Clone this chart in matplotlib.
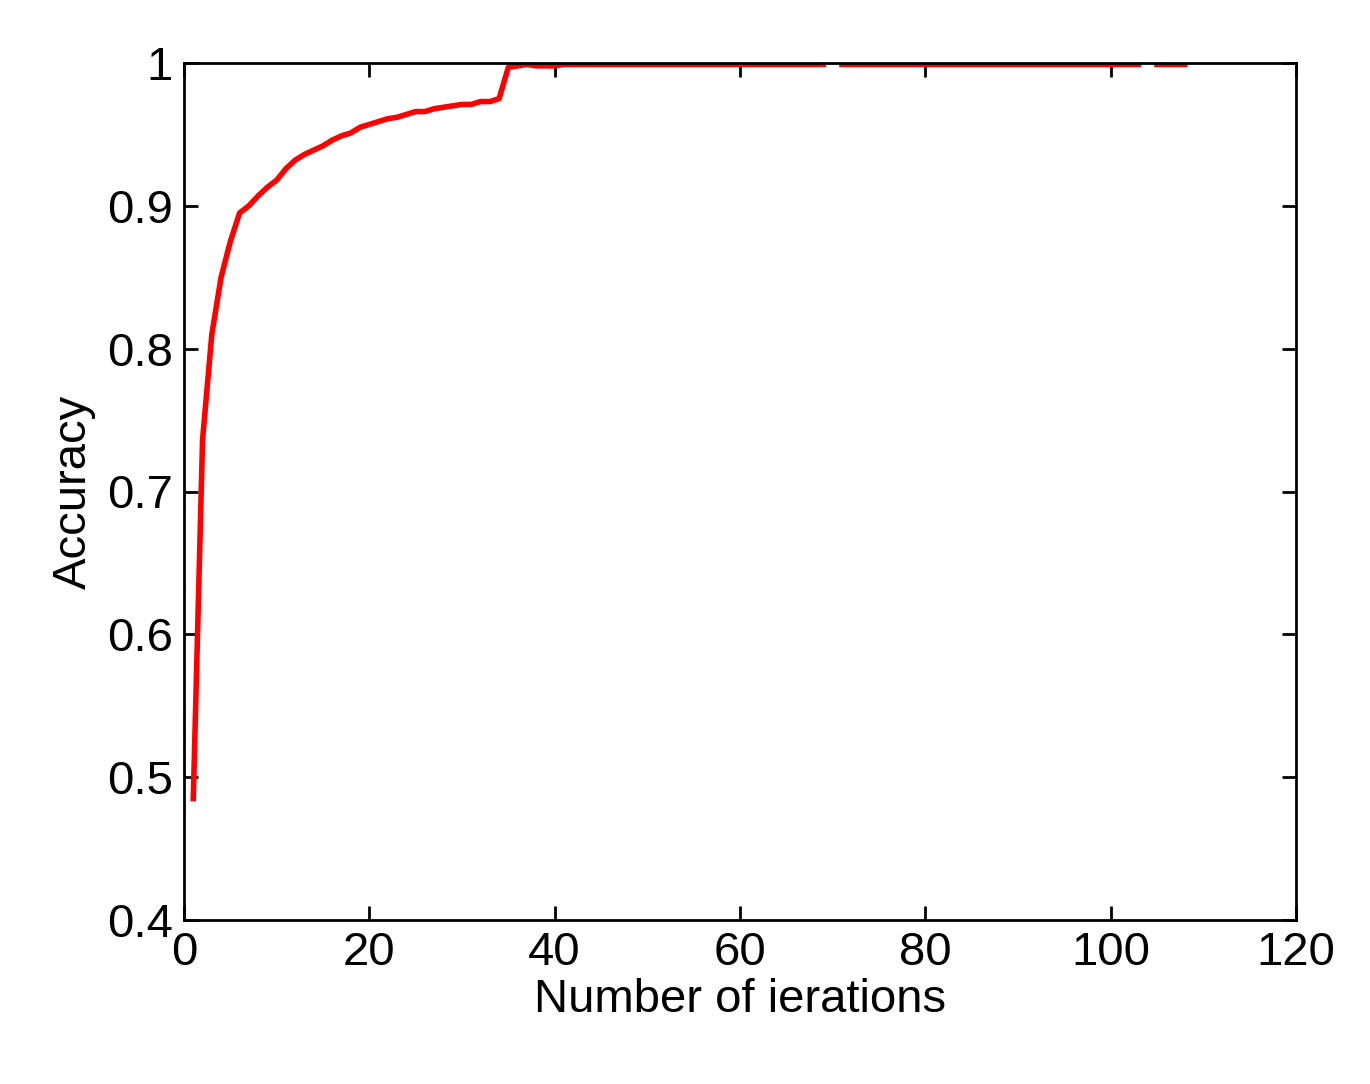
import numpy as np
import matplotlib
matplotlib.use("Agg")
import matplotlib.pyplot as plt

iterations = np.arange(1, 109)
accuracy_head = [0.485, 0.736, 0.81, 0.85, 0.875, 0.895, 0.900, 0.907, 0.913, 0.918,
                 0.926, 0.932, 0.936, 0.939, 0.942, 0.946, 0.949, 0.951, 0.955, 0.957,
                 0.959, 0.961, 0.962, 0.964, 0.966, 0.966, 0.968, 0.969, 0.970, 0.971,
                 0.971, 0.973, 0.973, 0.975, 0.997, 0.998, 0.999, 0.998, 0.998, 0.998]
accuracy = accuracy_head + [0.999] * (len(iterations) - len(accuracy_head))
accuracy = np.array(accuracy, dtype=float)
# short breaks in the plateau seen in the original
accuracy[iterations == 70] = np.nan
accuracy[iterations == 104] = np.nan

plt.rcParams["font.family"] = ["Liberation Sans", "DejaVu Sans"]
fig = plt.figure(figsize=(13.7, 10.84), dpi=100)
ax = fig.add_axes([184 / 1370, 1 - 920 / 1084, (1296 - 184) / 1370, (920 - 63) / 1084])
ax.plot(iterations, accuracy, color="red", linewidth=4)
ax.set_xlim(0, 120)
ax.set_ylim(0.4, 1)
ax.set_xticks(range(0, 121, 20))
ax.set_yticks([0.4, 0.5, 0.6, 0.7, 0.8, 0.9, 1])
ax.set_yticklabels(["0.4", "0.5", "0.6", "0.7", "0.8", "0.9", "1"])
ax.tick_params(direction="in", length=10, width=2, labelsize=34, top=True, right=True, pad=8)
for s in ax.spines.values():
    s.set_linewidth(2)
ax.set_xlabel("Number of ierations", fontsize=34, labelpad=2)
ax.set_ylabel("Accuracy", fontsize=34, labelpad=8)
fig.savefig("out.png")
